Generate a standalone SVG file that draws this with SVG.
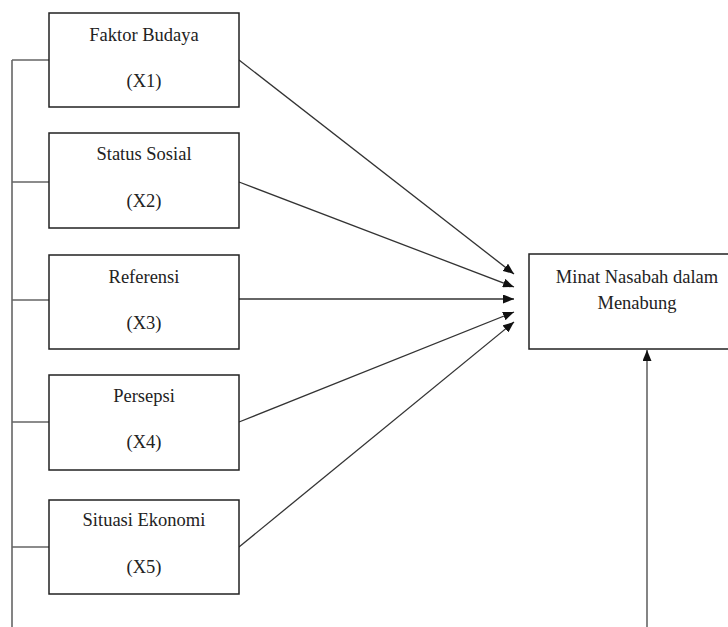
<svg xmlns="http://www.w3.org/2000/svg" width="728" height="627" viewBox="0 0 728 627">
<style>
.box{fill:#fff;stroke:#222;stroke-width:1.5}
.t{font-family:'Liberation Serif','Times New Roman',Times,serif;font-size:18.5px;fill:#222;text-anchor:middle}
.c{fill:none;stroke:#333;stroke-width:1.3}
.g{fill:none;stroke:#666;stroke-width:1.6}
</style>
<defs>
<marker id="ah" markerWidth="11" markerHeight="9" refX="11" refY="4.5" orient="auto" markerUnits="userSpaceOnUse">
<path d="M0,0 L11,4.5 L0,9 Z" fill="#111"/>
</marker>
</defs>
<rect width="728" height="627" fill="#fff"/>
<g id="connectors">
<path class="g" d="M12,60 V627 M12,60 H49 M12,182 H49 M12,300 H49 M12,422 H49 M12,547 H49"/>
<line class="c" x1="239" y1="60" x2="514" y2="274" marker-end="url(#ah)"/>
<line class="c" x1="239" y1="182" x2="514" y2="287" marker-end="url(#ah)"/>
<line class="c" x1="239" y1="299" x2="514" y2="299" marker-end="url(#ah)"/>
<line class="c" x1="239" y1="422" x2="514" y2="312" marker-end="url(#ah)"/>
<line class="c" x1="239" y1="547" x2="514" y2="322" marker-end="url(#ah)"/>
<line class="g" x1="647" y1="627" x2="647" y2="350" marker-end="url(#ah)"/>
</g>
<g id="x1">
<rect class="box" x="49" y="13" width="190" height="94"/>
<text class="t" x="144" y="41">Faktor Budaya</text>
<text class="t" x="144" y="87">(X1)</text>
</g>
<g id="x2">
<rect class="box" x="49" y="133" width="190" height="95"/>
<text class="t" x="144" y="160">Status Sosial</text>
<text class="t" x="144" y="207">(X2)</text>
</g>
<g id="x3">
<rect class="box" x="49" y="255" width="190" height="94"/>
<text class="t" x="144" y="283">Referensi</text>
<text class="t" x="144" y="329">(X3)</text>
</g>
<g id="x4">
<rect class="box" x="49" y="375" width="190" height="95"/>
<text class="t" x="144" y="402">Persepsi</text>
<text class="t" x="144" y="448">(X4)</text>
</g>
<g id="x5">
<rect class="box" x="49" y="500" width="190" height="94"/>
<text class="t" x="144" y="526">Situasi Ekonomi</text>
<text class="t" x="144" y="573">(X5)</text>
</g>
<g id="y">
<rect class="box" x="529" y="254" width="205" height="95"/>
<text class="t" x="637" y="283">Minat Nasabah dalam</text>
<text class="t" x="637" y="309">Menabung</text>
</g>
</svg>
